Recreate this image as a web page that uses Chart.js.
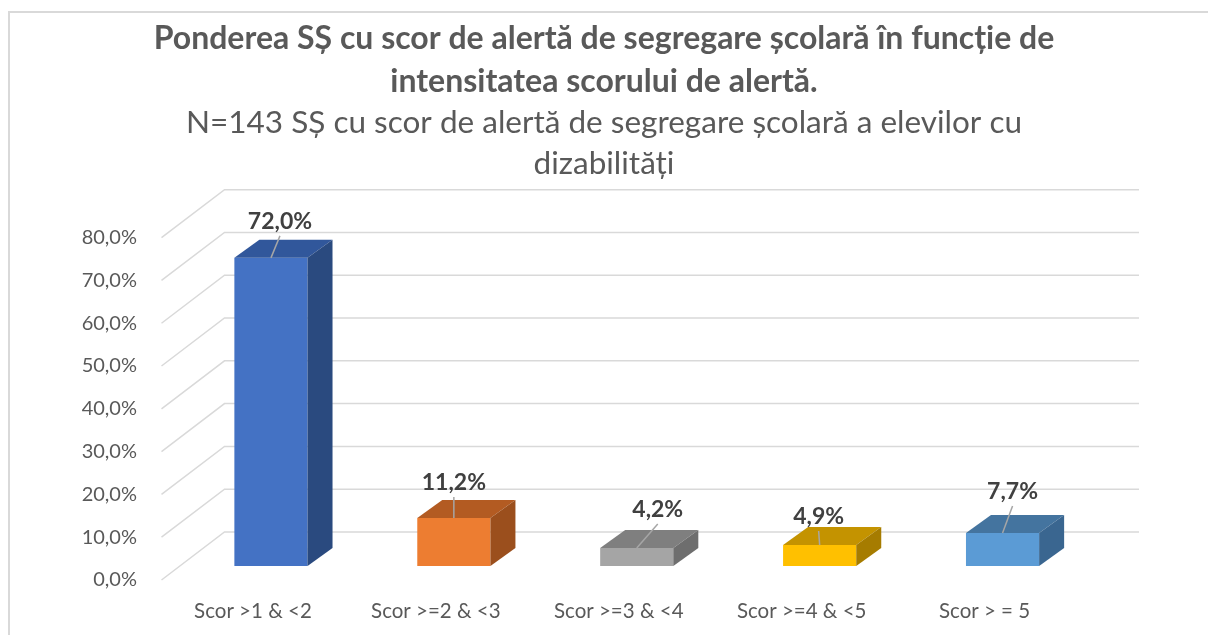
<!DOCTYPE html>
<html>
<head>
<meta charset="utf-8">
<script src="https://cdn.jsdelivr.net/npm/chart.js@4"></script>
<style>
  html, body { margin: 0; padding: 0; background: #fff; }
  #wrap { position: relative; width: 1208px; height: 635px; overflow: hidden; }
  #frame { position: absolute; left: 8px; top: 11px; width: 1300px; height: 700px;
           border-left: 2px solid #d9d9d9; border-top: 2px solid #d9d9d9; }
  canvas { position: absolute; left: 0; top: 0; }
</style>
</head>
<body>
<div id="wrap">
  <div id="frame"></div>
  <canvas id="chart" width="1208" height="635"></canvas>
</div>
<script>
// data
const categories = ["Scor >1 & <2", "Scor >=2 & <3", "Scor >=3 & <4", "Scor >=4 & <5", "Scor > = 5"];
const shares = [72.0, 11.2, 4.2, 4.9, 7.7];
const yMax = 80;
const yStep = 10;

const titleLines = [
  "Ponderea SȘ cu scor de alertă de segregare școlară în funcție de",
  "intensitatea scorului de alertă."
];
const subtitleLines = [
  "N=143 SȘ cu scor de alertă de segregare școlară a elevilor cu",
  "dizabilități"
];

// colours of the three visible faces
const frontColors = ["#4472C4", "#ED7D31", "#A5A5A5", "#FFC000", "#5B9BD5"];
const topColors   = ["#31579B", "#B35B22", "#7F7F7F", "#C49300", "#44749F"];
const sideColors  = ["#2A4A7F", "#9B4F1D", "#6E6E6E", "#A67C00", "#3A6690"];

// where each value label sits, relative to the front top edge of its bar
const labelNudge = [[9, -36], [0, -35], [21, -38], [-1, -28], [10, -41]];

// fake perspective
const barDepth = { dx: 25, dy: -18 };
const frontPlane = { dx: -18, dy: 14 };
const backWall = { dx: 45, dy: -34 };

const fmt = v => v.toFixed(1).replace(".", ",") + "%";
const FONT = "Lato";

const box3d = {
  id: "box3d",
  beforeDatasetsDraw(chart) {
    const { ctx, chartArea: a, scales: { y } } = chart;
    ctx.save();
    ctx.strokeStyle = "#D9D9D9";
    ctx.lineWidth = 1.5;
    for (let v = 0; v <= yMax; v += yStep) {
      const py = y.getPixelForValue(v);
      ctx.beginPath();
      ctx.moveTo(a.left + frontPlane.dx, py + frontPlane.dy);
      ctx.lineTo(a.left + backWall.dx, py + backWall.dy);
      ctx.lineTo(a.right + backWall.dx, py + backWall.dy);
      ctx.stroke();
    }
    ctx.restore();
  },
  afterDatasetsDraw(chart) {
    const { ctx } = chart;
    const meta = chart.getDatasetMeta(0);
    ctx.save();
    meta.data.forEach((bar, i) => {
      const x1 = bar.x - bar.width / 2;
      const x2 = bar.x + bar.width / 2;
      const top = bar.y, base = bar.base;
      const { dx, dy } = barDepth;

      ctx.fillStyle = topColors[i];
      ctx.beginPath();
      ctx.moveTo(x1, top);
      ctx.lineTo(x2, top);
      ctx.lineTo(x2 + dx, top + dy);
      ctx.lineTo(x1 + dx, top + dy);
      ctx.closePath();
      ctx.fill();

      ctx.fillStyle = sideColors[i];
      ctx.beginPath();
      ctx.moveTo(x2, top);
      ctx.lineTo(x2 + dx, top + dy);
      ctx.lineTo(x2 + dx, base + dy);
      ctx.lineTo(x2, base);
      ctx.closePath();
      ctx.fill();

      // value label and its leader line
      const lx = bar.x + labelNudge[i][0];
      const ly = top + labelNudge[i][1];
      const lineEnd = ly + 14;
      if (lineEnd < top - 4) {
        ctx.strokeStyle = "#A6A6A6";
        ctx.lineWidth = 1.5;
        ctx.beginPath();
        ctx.moveTo(bar.x, top);
        ctx.lineTo(lx, lineEnd);
        ctx.stroke();
      }
      ctx.fillStyle = "#404040";
      ctx.font = "bold 23px " + FONT;
      ctx.textAlign = "center";
      ctx.textBaseline = "middle";
      ctx.fillText(fmt(shares[i]), lx, ly);
    });
    ctx.restore();
  }
};

const ctx = document.getElementById("chart").getContext("2d");
const chart = new Chart(ctx, {
  type: "bar",
  data: {
    labels: categories,
    datasets: [{
      data: shares,
      backgroundColor: frontColors,
      borderWidth: 0,
      barPercentage: 0.4,
      categoryPercentage: 1
    }]
  },
  options: {
    responsive: false,
    animation: false,
    layout: { padding: { left: 0, right: 0, top: 1, bottom: 12 } },
    plugins: {
      legend: { display: false },
      tooltip: { enabled: false },
      title: {
        display: true,
        text: titleLines,
        color: "#595959",
        font: { family: FONT, size: 32, weight: "bold", lineHeight: 1.344 },
        padding: { top: 16, bottom: 0 }
      },
      subtitle: {
        display: true,
        text: subtitleLines,
        color: "#595959",
        font: { family: FONT, size: 31.5, weight: "normal", lineHeight: 1.286 },
        padding: { top: 0, bottom: 39.6 }
      }
    },
    scales: {
      x: {
        grid: { display: false, drawTicks: false },
        border: { display: false },
        ticks: {
          color: "#595959",
          font: { family: FONT, size: 20.5 },
          labelOffset: frontPlane.dx,
          padding: 33,
          maxRotation: 0,
          autoSkip: false
        },
        afterFit(scale) { scale.height = 57; }
      },
      y: {
        min: 0,
        max: yMax,
        grid: { display: false, drawTicks: false },
        border: { display: false },
        ticks: {
          stepSize: yStep,
          color: "#595959",
          font: { family: FONT, size: 20 },
          labelOffset: frontPlane.dy,
          padding: 42.5,
          callback: v => fmt(v)
        },
        afterFit(scale) { scale.width = 179.5; }
      },
      // empty right-hand axis that only reserves the blank strip on the right
      yRight: {
        position: "right",
        display: true,
        grid: { display: false, drawTicks: false },
        border: { display: false },
        ticks: { display: false },
        afterFit(scale) { scale.width = 114; }
      }
    }
  },
  plugins: [box3d]
});
</script>
</body>
</html>
